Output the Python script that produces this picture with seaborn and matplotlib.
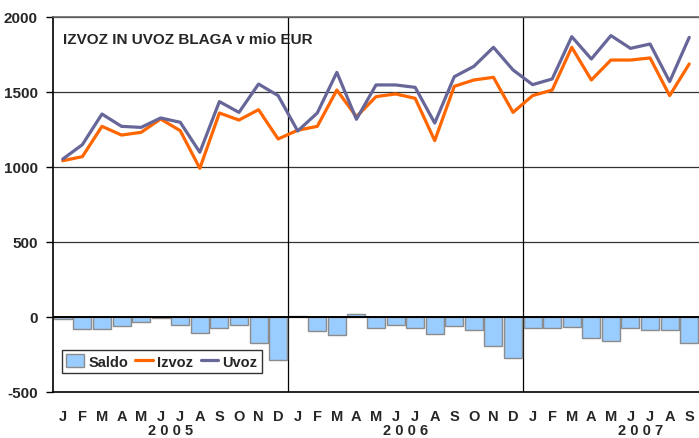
import matplotlib
matplotlib.use("Agg")
import matplotlib.pyplot as plt
import seaborn as sns
import pandas as pd
import numpy as np
from matplotlib.lines import Line2D
from matplotlib.patches import Patch
import matplotlib.transforms as mtransforms

months = ["J", "F", "M", "A", "M", "J", "J", "A", "S", "O", "N", "D",
          "J", "F", "M", "A", "M", "J", "J", "A", "S", "O", "N", "D",
          "J", "F", "M", "A", "M", "J", "J", "A", "S"]
years = ["2 0 0 5", "2 0 0 6", "2 0 0 7"]

izvoz = [1042, 1069, 1271, 1213, 1231, 1320, 1242, 991, 1360, 1313, 1382, 1187,
         1245, 1271, 1513, 1335, 1469, 1487, 1458, 1176, 1538, 1580, 1598, 1364,
         1476, 1513, 1798, 1580, 1713, 1713, 1727, 1476, 1687]
uvoz = [1053, 1149, 1353, 1271, 1264, 1327, 1298, 1098, 1436, 1364, 1553, 1476,
        1240, 1360, 1631, 1318, 1547, 1547, 1531, 1293, 1602, 1671, 1798, 1647,
        1549, 1587, 1869, 1720, 1876, 1791, 1820, 1569, 1864]
saldo = [-11, -80, -82, -58, -33, -7, -56, -107, -76, -51, -171, -289,
         5, -91, -118, 17, -76, -53, -73, -113, -60, -89, -193, -276,
         -76, -74, -69, -142, -158, -76, -89, -84, -173]

n = len(months)
df = pd.DataFrame({"idx": np.arange(n), "Saldo": saldo, "Izvoz": izvoz, "Uvoz": uvoz})

sns.set_style("white")
plt.rcParams["font.family"] = ["Liberation Sans", "DejaVu Sans"]

fig = plt.figure(figsize=(6.99, 4.39), dpi=100)
ax = fig.add_axes([53/699, 1 - 393/439, 646/699, 375/439])

sns.barplot(data=df, x="idx", y="Saldo", color="#99CCFF", saturation=1,
            width=0.92, edgecolor="#8c8c8c", linewidth=1.0, ax=ax, zorder=2)
sns.lineplot(data=df, x="idx", y="Izvoz", color="#FF6600", linewidth=2.3, ax=ax, zorder=3)
sns.lineplot(data=df, x="idx", y="Uvoz", color="#666699", linewidth=2.3, ax=ax, zorder=4)

ax.set_xlim(-0.5, n - 0.5)
ax.set_ylim(-500, 2000)
ax.set_yticks([-500, 0, 500, 1000, 1500, 2000])
ax.set_yticklabels(["-500", "0", "500", "1000", "1500", "2000"],
                   fontsize=11, fontweight="bold")
for yv in [500, 1000, 1500, 2000]:
    ax.axhline(yv, color="#333333", linewidth=0.9, zorder=1)
ax.axhline(0, color="black", linewidth=1.4, zorder=5)
for xv in [11.5, 23.5]:
    ax.axvline(xv, color="black", linewidth=0.9, zorder=1)

ax.set_xticks(np.arange(n))
ax.set_xticklabels(months, fontsize=10.5, fontweight="bold")
ax.tick_params(axis="x", length=0, pad=12)
ax.tick_params(axis="y", length=5, width=1, direction="out", color="black", pad=6, left=True)
ax.set_xlabel("")
ax.set_ylabel("")

for side in ["left", "bottom", "top"]:
    ax.spines[side].set_visible(True)
    ax.spines[side].set_color("black")
    ax.spines[side].set_linewidth(1.2)
ax.spines["right"].set_visible(False)
ax.spines["top"].set_color("#666666")

trans = mtransforms.blended_transform_factory(ax.transData, fig.transFigure)
for i, y in enumerate(years):
    ax.text(i * 12 + 5.5, 1 - 431.5/439, y, transform=trans, ha="center",
            va="center", fontsize=10.5, fontweight="bold")

ax.text(0.015, 0.942, "IZVOZ IN UVOZ BLAGA v mio EUR", transform=ax.transAxes,
        fontsize=11, fontweight="bold", ha="left", va="center")

handles = [Patch(facecolor="#99CCFF", edgecolor="#8c8c8c", label="Saldo"),
           Line2D([0], [0], color="#FF6600", linewidth=2.3, label="Izvoz"),
           Line2D([0], [0], color="#666699", linewidth=2.3, label="Uvoz")]
leg = ax.legend(handles=handles, loc="lower left", bbox_to_anchor=(9/646, 19/375),
                ncol=3, frameon=True, fancybox=False, edgecolor="black",
                prop={"size": 10.5, "weight": "bold"}, handlelength=1.2,
                handleheight=1.0, handletextpad=0.3, columnspacing=0.5,
                borderpad=0.3, borderaxespad=0)
leg.get_frame().set_linewidth(1.0)
leg.set_zorder(10)

fig.savefig("out.png", dpi=100)
